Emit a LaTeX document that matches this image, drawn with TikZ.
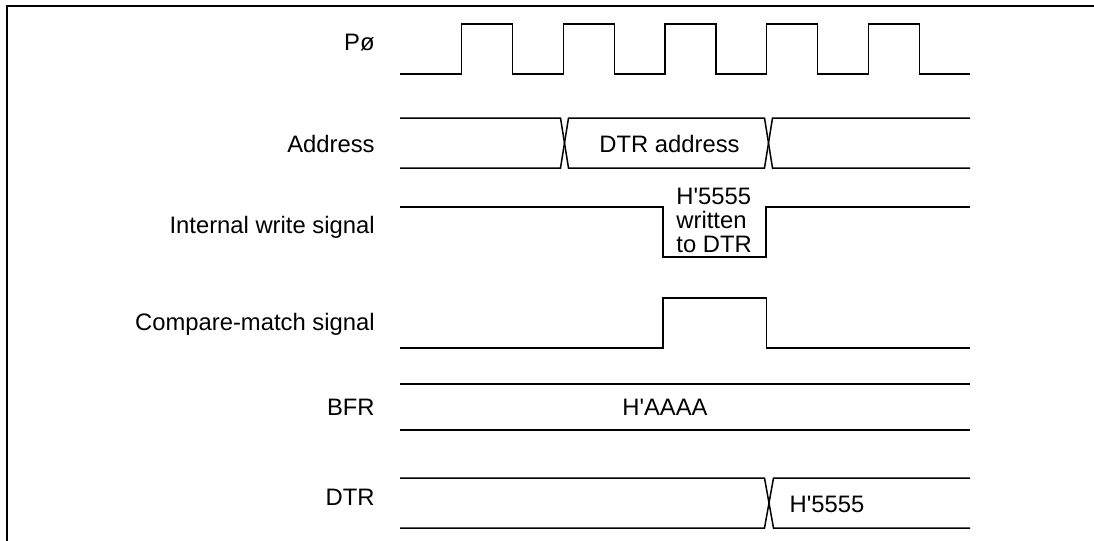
\documentclass[tikz,border=0pt]{standalone}
\usepackage{fontspec}
\setmainfont{Liberation Sans}
\newcommand{\hq}{\textquotesingle}
\tikzset{
 sig/.style={line width=0.75pt,line join=miter},
 frameline/.style={line width=1pt},
 lbl/.style={anchor=base east,inner sep=0pt,font=\fontsize{11.9}{12}\selectfont},
 val/.style={anchor=base,inner sep=0pt,font=\fontsize{11.9}{12}\selectfont}
}
\begin{document}
\begin{tikzpicture}[x=0.5pt,y=-0.5pt]
\useasboundingbox (0,0) rectangle (1094,541);
\draw[frameline] (7,541) -- (7,6) -- (1094,6);
% signal names
\node[lbl] (clk) at (375,50) {Pø};
\node[lbl] (addr) at (375,152) {Address};
\node[lbl] (wr) at (375,233) {Internal write signal};
\node[lbl] (cmp) at (375,330) {Compare-match signal};
\node[lbl] (bfr) at (375,415) {BFR};
\node[lbl] (dtr) at (375,505) {DTR};
% clock
\draw[sig] (400,74) foreach \r in {461.5,563.3,665,766.7,868.4}{
  -- (\r,74) -- (\r,24) -- ({\r+51},24) -- ({\r+51},74)} -- (970,74);
% address bus
\draw[sig] (400,118) -- (560.5,118) -- (568.5,168) -- (764.5,168) -- (772.5,118) -- (970,118);
\draw[sig] (400,168) -- (560.5,168) -- (568.5,118) -- (764.5,118) -- (772.5,168) -- (970,168);
\node[val] (addrval) at (669.5,152) {DTR address};
% write strobe
\draw[sig] (400,207) -- (663,207) -- (663,257) -- (766,257) -- (766,207) -- (970,207);
\node[val,anchor=north west,align=left] (wrval) at (676,188) {H\hq 5555\\written\\to DTR};
% compare match
\draw[sig] (400,348) -- (663,348) -- (663,298) -- (766.5,298) -- (766.5,348) -- (970,348);
% BFR
\draw[sig] (400,384) -- (970,384);
\draw[sig] (400,430) -- (970,430);
\node[val] (bfrval) at (665,415) {H\hq AAAA};
% DTR
\draw[sig] (400,478) -- (764.5,478) -- (773.5,528) -- (970,528);
\draw[sig] (400,528) -- (764.5,528) -- (773.5,478) -- (970,478);
\node[val] (dtrval) at (827,512) {H\hq 5555};
\end{tikzpicture}
\end{document}
